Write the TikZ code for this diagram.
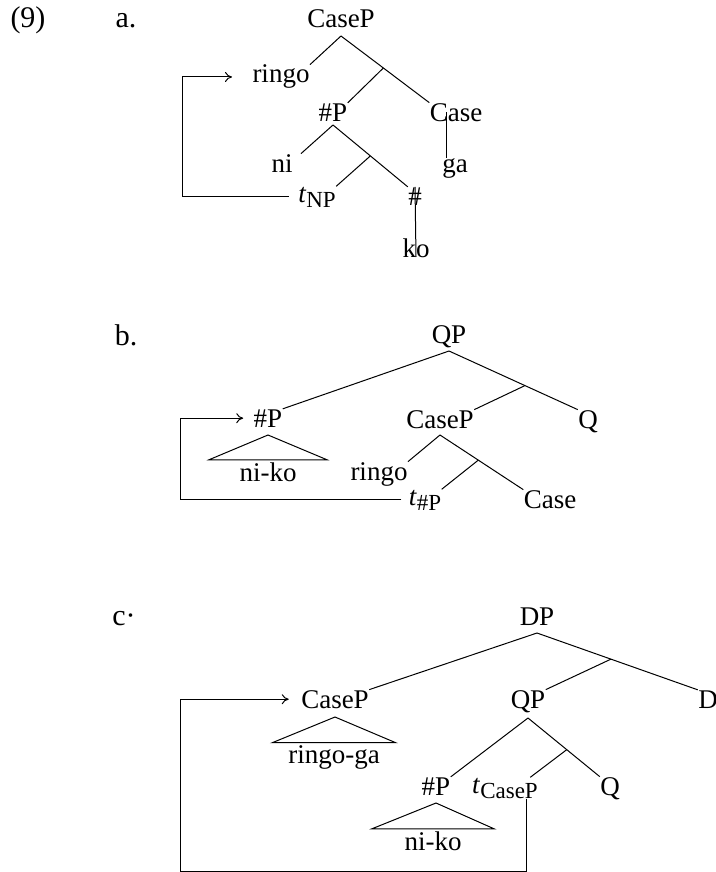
\documentclass[tikz,border=0pt]{standalone}
\usepackage{fontspec}
\setmainfont{Liberation Serif}
\usepackage{tikz}
\usetikzlibrary{positioning,arrows.meta}

\tikzset{
  lbl/.style={inner sep=0pt, anchor=base, font=\fontsize{13.5}{16}\selectfont},
  exlbl/.style={inner sep=0pt, anchor=base, font=\fontsize{15}{18}\selectfont},
  roof/.style={lbl, minimum width=#1, inner ysep=1pt},
  movearrow/.style={-{To[length=3.5pt,width=5pt]}},
}
\newcommand{\trc}[1]{\textit{t}\raisebox{-2.5pt}{\fontsize{11.5}{13}\selectfont #1}}

\begin{document}
\begin{tikzpicture}[x=0.5pt, y=-0.5pt, line width=0.5pt]
  \useasboundingbox (0,0) rectangle (716,872);

  % (9a)
  \node[exlbl] (ex) at (28,28) {(9)};
  \node[exlbl] (la) at (126,28) {a.};
  \node[lbl] (caseA) at (341,28) {CaseP};
  \node[lbl] (ringoA) at (281,83) {ringo};
  \node[lbl] (hashPA) at (333,121) {\#P};
  \node[lbl] (caseHA) at (456,121) {Case};
  \node[lbl] (niA) at (282,172) {ni};
  \node[lbl] (gaA) at (455,172) {ga};
  \node[lbl] (tA) at (317,202) {\trc{NP}};
  \node[lbl] (hashA) at (415,205) {\#};
  \node[lbl] (koA) at (416,257) {ko};

  \coordinate (caseA-v) at ([yshift=-4pt]caseA.base);
  \coordinate (hashPA-v) at ([yshift=-2pt]hashPA.base);
  \draw (caseA-v) -- (ringoA.north east);
  \draw (caseA-v) -- coordinate[pos=.48] (caseA-m) (caseHA.north west);
  \draw (caseA-m) -- (hashPA.north east);
  \draw ([xshift=-5pt]caseHA.center) -- ([xshift=-4.5pt]gaA.north);
  \draw (hashPA-v) -- ([xshift=4pt]niA.north east);
  \draw (hashPA-v) -- coordinate[pos=.5] (hashPA-m) (hashA.north west);
  \draw (hashPA-m) -- (tA.north east);
  \draw (hashA.north) -- (koA.base);

  % movement
  \coordinate (bendA) at (182,0);
  \draw[movearrow, shorten <=4.5pt, shorten >=10pt]
    (tA.west) -| (ringoA.west -| bendA) -- (ringoA.west);

  % (9b)
  \node[exlbl] (lb) at (126,345) {b.};
  \node[lbl] (qpB) at (449,343) {QP};
  \node[lbl] (hashPB) at (268,427) {\#P};
  \node[lbl] (casePB) at (440,428) {CaseP};
  \node[lbl] (qB) at (588,428) {Q};
  \node[roof=58.5pt] (nikoB) at (268,481) {ni-ko};
  \node[lbl] (ringoB) at (379,480) {ringo};
  \node[lbl] (tB) at (425,505) {\trc{\#P}};
  \node[lbl] (caseB) at (550,508) {Case};

  \coordinate (qpB-v) at ([yshift=-4pt]qpB.base);
  \coordinate (hashPB-v) at ([yshift=-4pt]hashPB.base);
  \coordinate (casePB-v) at ([yshift=-3.5pt]casePB.base);
  \draw (qpB-v) -- (hashPB.north east);
  \draw (qpB-v) -- coordinate[pos=.59] (qpB-m) (qB.north west);
  \draw (qpB-m) -- (casePB.north east);
  \draw (hashPB-v) -- (nikoB.north west) -- (nikoB.north east) -- cycle;
  \draw (casePB-v) -- (ringoB.north east);
  \draw (casePB-v) -- coordinate[pos=.46] (casePB-m) (caseB.north west);
  \draw (casePB-m) -- (tB.north east);

  % movement
  \coordinate (bendB) at (180,0);
  \draw[movearrow, shorten <=3.5pt, shorten >=5pt]
    (tB.west) -| (hashPB.west -| bendB) -- (hashPB.west);

  % (9c)
  \node[exlbl] (lc) at (124,625) {c·};
  \node[lbl] (dpC) at (537,625) {DP};
  \node[lbl] (casePC) at (335,708) {CaseP};
  \node[lbl] (qpC) at (528,708) {QP};
  \node[lbl] (dC) at (708,708) {D};
  \node[roof=61pt] (ringogaC) at (334,763) {ringo-ga};
  \node[lbl] (hashPC) at (436,795) {\#P};
  \node[lbl] (tC) at (505,793) {\trc{CaseP}};
  \node[lbl] (qC) at (610,795) {Q};
  \node[roof=60.5pt] (nikoC) at (433,850) {ni-ko};

  \coordinate (dpC-v) at ([yshift=-4pt]dpC.base);
  \coordinate (casePC-v) at ([yshift=-4.5pt]casePC.base);
  \coordinate (qpC-v) at ([yshift=-5pt]qpC.base);
  \coordinate (hashPC-v) at ([yshift=-4pt]hashPC.base);
  \draw (dpC-v) -- (casePC.north east);
  \draw (dpC-v) -- coordinate[pos=.46] (dpC-m) (dC.north west);
  \draw (dpC-m) -- (qpC.north east);
  \draw (casePC-v) -- (ringogaC.north west) -- (ringogaC.north east) -- cycle;
  \draw (qpC-v) -- (hashPC.north east);
  \draw (qpC-v) -- coordinate[pos=.54] (qpC-m) (qC.north west);
  \draw (qpC-m) -- ([xshift=-4pt]tC.north east);
  \draw (hashPC-v) -- (nikoC.north west) -- (nikoC.north east) -- cycle;

  % movement
  \coordinate (bendC) at (180,871);
  \draw[movearrow, shorten >=6pt]
    ([xshift=10.5pt]tC.south) |- (bendC) |- (casePC.west);
\end{tikzpicture}
\end{document}
